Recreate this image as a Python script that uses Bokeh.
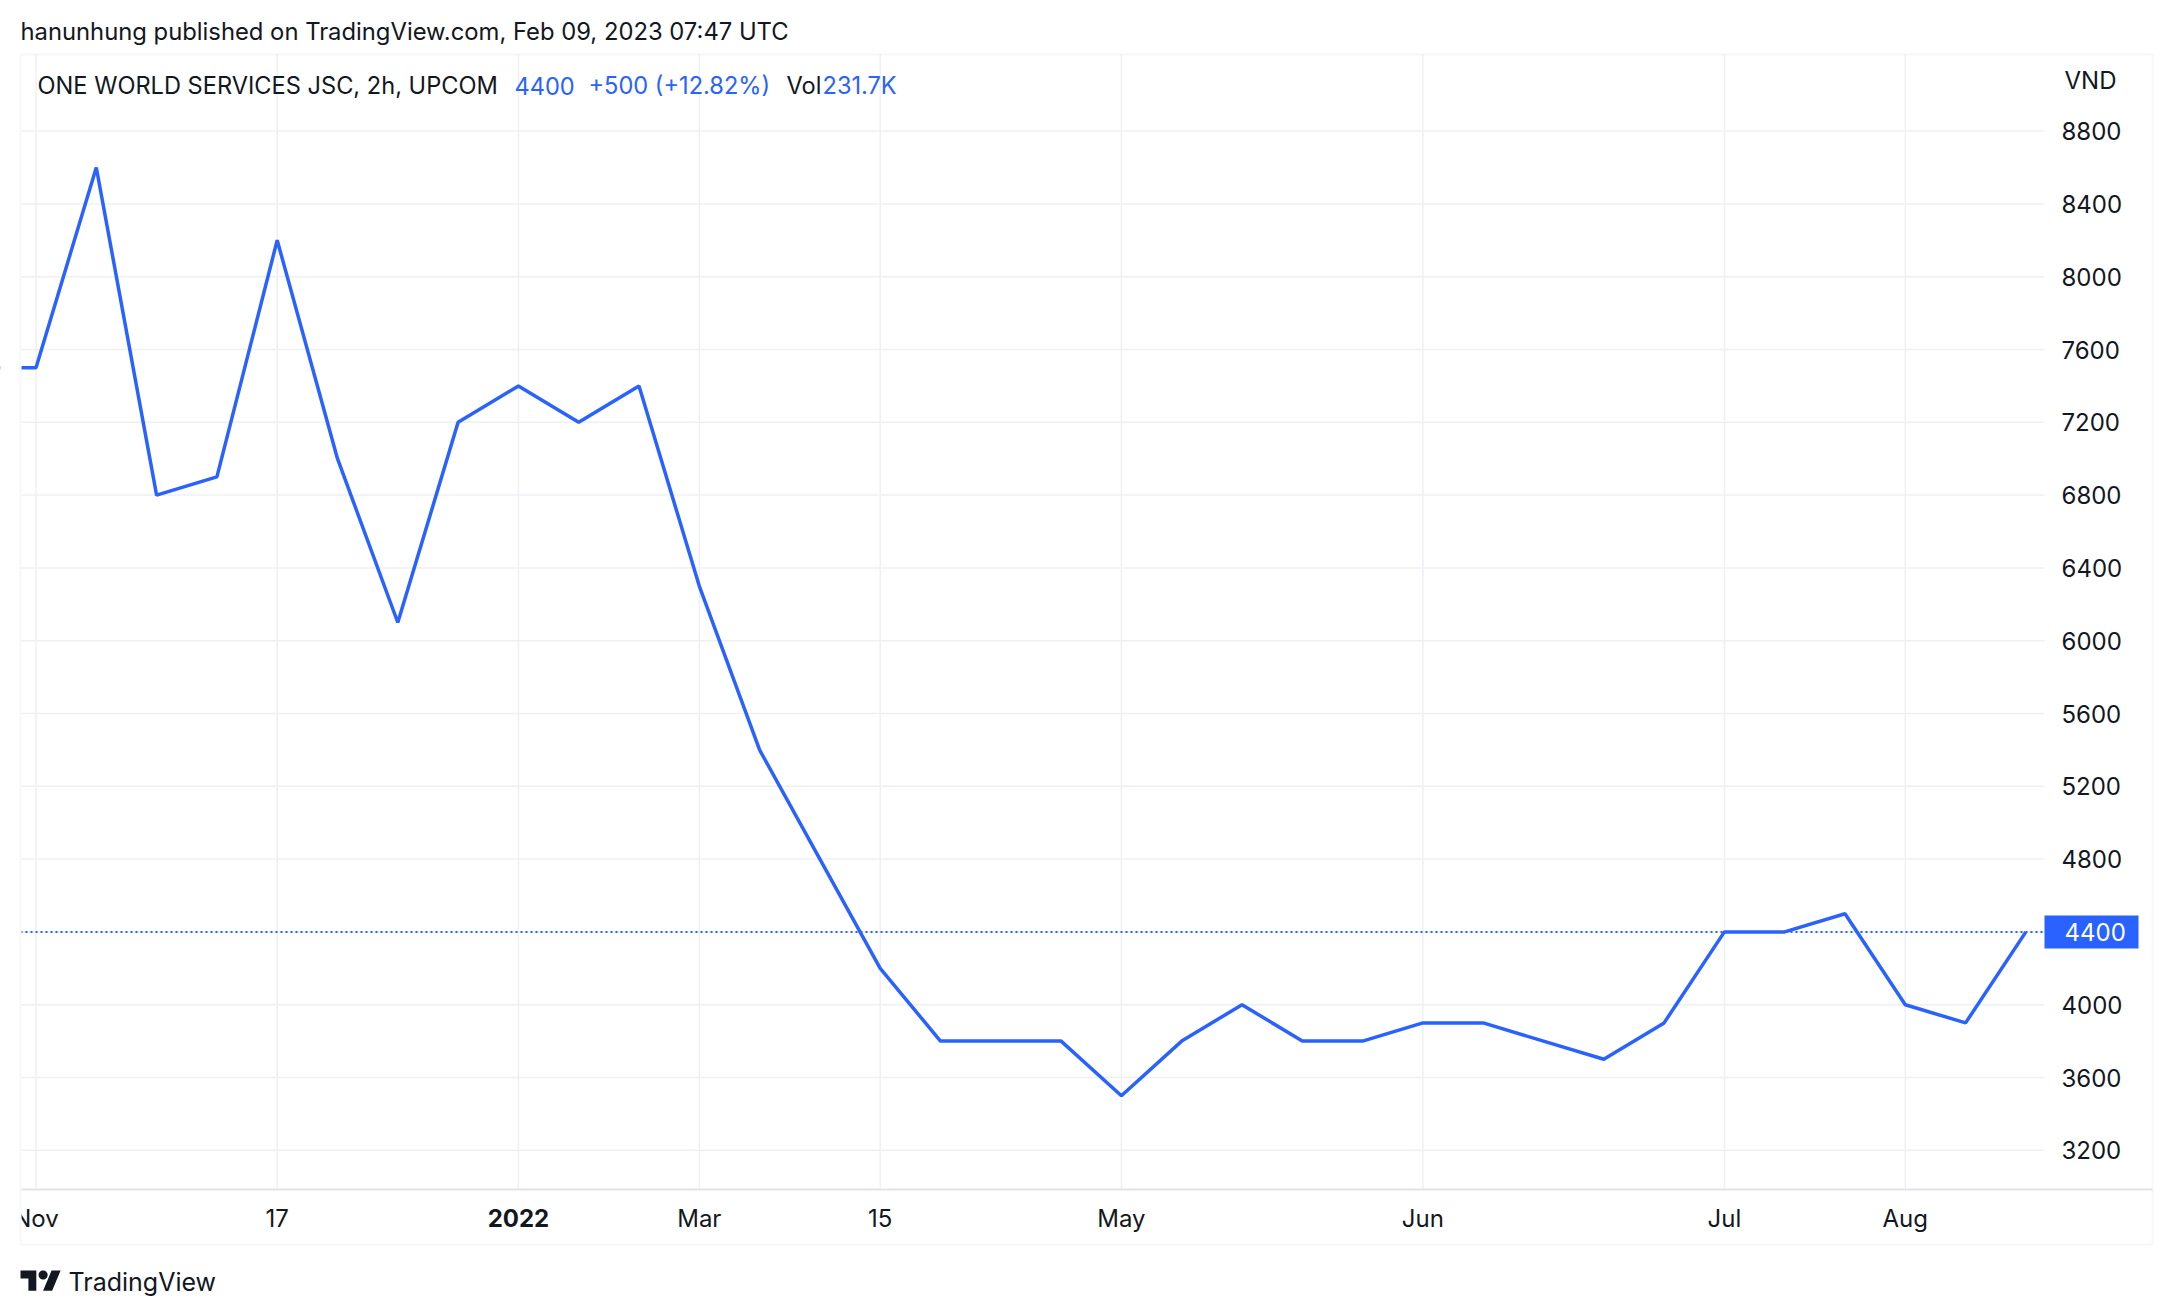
from bokeh.plotting import figure
from bokeh.models import (FixedTicker, Range1d, Label, LinearAxis, PolyAnnotation,
                          BoxAnnotation)
from bokeh.embed import file_html
from bokeh.resources import INLINE
import math

# ---- data ----
bar_index = list(range(-1, 34))
close = [7500, 7500, 8600, 6800, 6900, 8200, 7000, 6100, 7200, 7400,
         7200, 7400, 6300, 5400, 4800, 4200, 3800, 3800, 3800, 3500,
         3800, 4000, 3800, 3800, 3900, 3900, 3800, 3700, 3900, 4400,
         4400, 4500, 4000, 3900, 4400]
month_ticks = [0, 4, 8, 11, 14, 18, 23, 28, 31]
month_labels = ["Nov", "17", "2022", "Mar", "15", "May", "Jun", "Jul", "Aug"]
bold_ticks = ["2022"]
price_ticks = [3200, 3600, 4000, 4400, 4800, 5200, 5600, 6000, 6400, 6800,
               7200, 7600, 8000, 8400, 8800]
last_price = 4400

header = "hanunhung published on TradingView.com, Feb 09, 2023 07:47 UTC"
symbol = "ONE WORLD SERVICES JSC, 2h, UPCOM"
last_txt = "4400"
change_txt = "+500 (+12.82%)"
vol_txt = "231.7K"
currency = "VND"
brand = "TradingView"

FONT = "Inter"
TXT = "#131722"
BLUE = "#2962ff"
GRID = "#eef0f4"
BORDER = "#e0e3eb"

# ---- page geometry (pixels) ----
W, H = 2160, 1300
PX0, PXB = 35.5, 60.3          # page x of bar 0, pixels per bar
PY0, PYV = 130.6, 72.8 / 400   # page y of 8800, pixels per VND
L, R, T, B = 20, 2044, 54, 1189   # plot pane
BR, BB = 2152, 1244               # outer box right / bottom


def X(px):
    return (px - PX0) / PXB


def Y(py):
    return 8800 - (py - PY0) / PYV


def SY(py):
    return H - py


p = figure(width=W, height=H, x_range=Range1d(X(0), X(W)), y_range=Range1d(Y(H), Y(0)),
           x_axis_location=None, y_axis_location=None, output_backend="svg",
           toolbar_location=None, min_border=0)
p.title.visible = False
p.outline_line_color = None
p.background_fill_color = "white"
p.border_fill_color = "white"
p.xgrid.visible = False
p.ygrid.visible = False

# grid lines inside the plot pane
n, m = len(month_ticks), len(price_ticks)
p.segment(x0=month_ticks, y0=[Y(T)] * n, x1=month_ticks, y1=[Y(B)] * n,
          line_color=GRID, line_width=1.5)
p.segment(x0=[X(L)] * m, y0=price_ticks, x1=[X(R)] * m, y1=price_ticks,
          line_color=GRID, line_width=1.5)

# price line
p.line(bar_index, close, line_color=BLUE, line_width=3.5)
# last price dotted line
p.segment(x0=[X(L)], y0=[last_price], x1=[X(R)], y1=[last_price],
          line_color=BLUE, line_dash="2 3", line_width=2)

# time axis
xa = LinearAxis(ticker=FixedTicker(ticks=month_ticks), fixed_location=Y(B),
                bounds=(X(L), X(BR)))
xa.major_label_overrides = {t: ("" if l in bold_ticks else l) for t, l in zip(month_ticks, month_labels)}
xb = LinearAxis(ticker=FixedTicker(ticks=[t for t, l in zip(month_ticks, month_labels) if l in bold_ticks]),
                fixed_location=Y(B))
xb.major_label_overrides = {t: l for t, l in zip(month_ticks, month_labels) if l in bold_ticks}
xb.axis_line_color = None
xb.major_label_text_font_style = "bold"
for ax in (xa, xb):
    ax.major_tick_line_color = None
    ax.minor_tick_line_color = None
    ax.major_tick_out = 0
    ax.major_tick_in = 0
    ax.major_label_text_font = FONT
    ax.major_label_text_font_size = "24px"
    ax.major_label_text_color = TXT
xa.major_label_standoff = 14
xb.major_label_standoff = 19
xa.axis_line_color = BORDER
xa.axis_line_width = 2
p.add_layout(xa, "below")
p.add_layout(xb, "below")

# price axis
ya = LinearAxis(ticker=FixedTicker(ticks=price_ticks), fixed_location=X(R))
ya.major_label_overrides = {last_price: ""}
ya.axis_line_color = None
ya.major_tick_line_color = None
ya.minor_tick_line_color = None
ya.major_tick_out = 0
ya.major_tick_in = 0
ya.major_label_standoff = 17
ya.major_label_text_font = FONT
ya.major_label_text_font_size = "24px"
ya.major_label_text_color = TXT
p.add_layout(ya, "right")

# last price badge
p.rect(x=[X(2091)], y=[last_price], width=94, height=33, width_units="screen",
       height_units="screen", fill_color=BLUE, line_color=None)
p.text(x=[X(2064)], y=[last_price], text=[last_txt], text_color="white",
       text_font={"value": FONT}, text_font_size="24px", text_align="left",
       text_baseline="middle")

# left margin mask (plot pane clips at its left edge)
p.add_layout(BoxAnnotation(left=X(0) - 1, right=X(L + 1), top=Y(0) + 100, bottom=Y(H) - 100,
                           fill_color="white", fill_alpha=1, line_color=None))
# outer box
p.add_layout(BoxAnnotation(left=X(L), right=X(BR), top=Y(T), bottom=Y(BB),
                           fill_alpha=0, line_color=BORDER, line_width=2))


def lab(text, px, py, color=TXT, size="24px", style="normal"):
    p.add_layout(Label(x=px, y=SY(py), x_units="screen", y_units="screen", text=text,
                       text_font=FONT, text_font_size=size, text_font_style=style,
                       text_color=color, text_align="left", text_baseline="middle"))


lab(header, 20, 31, size="23.8px")
lab(symbol, 37, 85, size="23.6px")
lab(last_txt, 514, 85, color=BLUE, size="23.6px")
lab(change_txt, 588, 85, color=BLUE, size="23.6px")
lab("Vol", 786, 85, size="23.6px")
lab(vol_txt, 822, 85, color=BLUE, size="23.6px")
lab(currency, 2064, 80)
lab(brand, 68, 1281, size="25px")

# TradingView logo (from its vector outline)
s = 1.13
ox, oy = 20, 1270 - 4 * s


def lp(pts):
    return [ox + x * s for x, _ in pts], [SY(oy + y * s) for _, y in pts]


for pts in ([(14, 22), (7, 22), (7, 11), (0, 11), (0, 4), (14, 4)],
            [(28, 22), (20, 22), (27.5, 4), (35.5, 4)],
            [(20 + 4 * math.cos(a * math.pi / 16), 8 + 4 * math.sin(a * math.pi / 16)) for a in range(32)]):
    xs, ys = lp(pts)
    p.add_layout(PolyAnnotation(xs=xs, ys=ys, xs_units="screen", ys_units="screen",
                                fill_color=TXT, fill_alpha=1, line_color=None))

open("out.html", "w").write(file_html(p, INLINE))
